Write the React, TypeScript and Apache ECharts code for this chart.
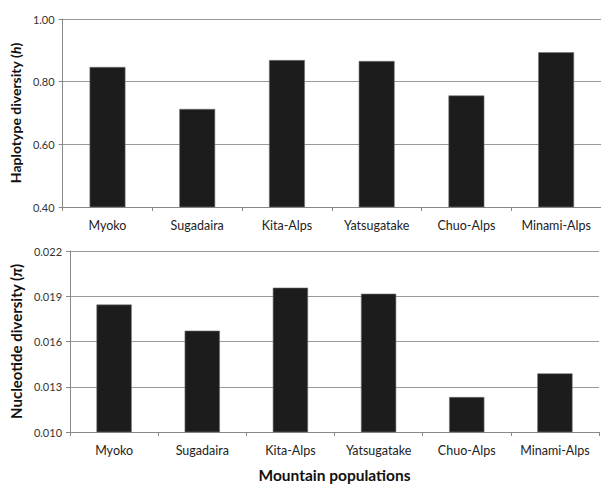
import React, { useEffect, useRef } from "react";
import * as echarts from "echarts";

const categories = ["Myoko", "Sugadaira", "Kita-Alps", "Yatsugatake", "Chuo-Alps", "Minami-Alps"];
const haplotypeDiversity = [0.847, 0.713, 0.869, 0.866, 0.756, 0.894];
const nucleotideDiversity = [0.01845, 0.01672, 0.01957, 0.01917, 0.01232, 0.01389];

const FONT = "Lato, 'Open Sans', sans-serif";

export default function App() {
  const ref = useRef<HTMLDivElement>(null);
  useEffect(() => {
    if (!ref.current) return;
    const chart = echarts.init(ref.current, null, { renderer: "svg" });
    const axisLine = { lineStyle: { color: "#888", width: 1 } };
    const xAxisCommon = {
      type: "category" as const,
      data: categories,
      axisLine,
      axisTick: { show: true, length: 4, lineStyle: { color: "#888" } },
      axisLabel: { color: "#222", fontSize: 12.5, fontFamily: FONT, margin: 12, interval: 0 },
    };
    const nameStyle = (size: number) => ({
      color: "#111",
      fontSize: size,
      fontWeight: "bold" as const,
      fontFamily: FONT,
      rich: {
        i: { color: "#111", fontSize: size, fontWeight: "bold" as const, fontStyle: "italic" as const, fontFamily: FONT },
      },
    });
    const yAxisCommon = {
      type: "value" as const,
      axisLine: { show: true, ...axisLine },
      axisTick: { show: true, length: 4, lineStyle: { color: "#888" } },
      splitLine: { lineStyle: { color: "#999", width: 1 } },
      nameLocation: "middle" as const,
    };
    const barStyle = { color: "#1c1c1c", borderColor: "#777", borderWidth: 0.6 };
    chart.setOption({
      animation: false,
      backgroundColor: "#fff",
      grid: [
        { left: 62, width: 542, top: 19, height: 188 },
        { left: 62, width: 537, top: 251, height: 189 },
      ],
      xAxis: [
        { ...xAxisCommon, gridIndex: 0 },
        {
          ...xAxisCommon,
          gridIndex: 1,
          name: "Mountain populations",
          nameLocation: "middle",
          nameGap: 35,
          nameTextStyle: { color: "#111", fontSize: 15.5, fontWeight: "bold", fontFamily: FONT },
        },
      ],
      yAxis: [
        {
          ...yAxisCommon,
          gridIndex: 0,
          min: 0.4,
          max: 1.0,
          interval: 0.2,
          name: "Haplotype diversity ({i|h})",
          nameGap: 30,
          nameTextStyle: nameStyle(14),
          axisLabel: { color: "#333", fontSize: 11, fontFamily: FONT, margin: 8, formatter: (v: number) => v.toFixed(2) },
        },
        {
          ...yAxisCommon,
          gridIndex: 1,
          min: 0.01,
          max: 0.022,
          interval: 0.003,
          name: "Nucleotide diversity ({i|π})",
          nameGap: 38,
          nameTextStyle: nameStyle(15),
          axisLabel: { color: "#333", fontSize: 11, fontFamily: FONT, margin: 8, formatter: (v: number) => v.toFixed(3) },
        },
      ],
      series: [
        {
          type: "bar",
          xAxisIndex: 0,
          yAxisIndex: 0,
          data: haplotypeDiversity,
          barWidth: "40%",
          itemStyle: barStyle,
        },
        {
          type: "bar",
          xAxisIndex: 1,
          yAxisIndex: 1,
          data: nucleotideDiversity,
          barWidth: "40%",
          itemStyle: barStyle,
        },
      ],
    });
    return () => chart.dispose();
  }, []);
  return <div ref={ref} style={{ width: 601, height: 484, position: "absolute", left: 0, top: 0 }} />;
}
